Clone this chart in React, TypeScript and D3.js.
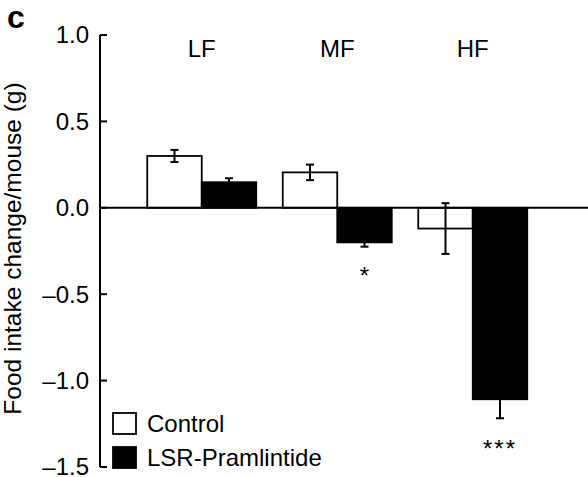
import React from "react";
import * as d3 from "d3";

const groups = ["LF", "MF", "HF"];
const seriesNames = ["Control", "LSR-Pramlintide"];
const controlValues = [0.3, 0.205, -0.12];
const controlErrors = [0.035, 0.045, 0.147];
const lsrValues = [0.148, -0.2, -1.108];
const lsrErrors = [0.023, 0.025, 0.11];
const significance = ["", "*", "***"];
const yTicks = [1.0, 0.5, 0.0, -0.5, -1.0, -1.5];

const W = 588;
const H = 477;
const FONT = "'Liberation Sans', Arial, Helvetica, sans-serif";

export default function App() {
  const y = d3.scaleLinear().domain([-1.5, 1.0]).range([467, 35]);
  const x0 = d3.scaleBand<string>().domain(groups).range([134, 540.5]).padding(0);
  const x1 = d3
    .scaleBand<string>()
    .domain(seriesNames)
    .range([13.25, x0.bandwidth() - 13.25])
    .padding(0);
  const fills = ["#ffffff", "#000000"];
  const seriesVals = [controlValues, lsrValues];
  const seriesErr = [controlErrors, lsrErrors];
  const fmt = (v: number) => (v < 0 ? "\u2013" : "") + Math.abs(v).toFixed(1);
  const axisX = 100;
  const cap = 4;

  return (
    <svg width={W} height={H} style={{ position: "absolute", left: 0, top: 0 }} fontFamily={FONT}>
      <rect x={0} y={0} width={W} height={H} fill="#fff" />
      <text x={7} y={28} fontSize={32} fontWeight="bold">c</text>
      <text
        transform={`translate(21,${(80 + 417) / 2}) rotate(-90)`}
        textAnchor="middle"
        fontSize={24.5}
      >
        Food intake change/mouse (g)
      </text>
      {/* y axis */}
      <line x1={axisX} x2={axisX} y1={y(1.0)} y2={y(-1.5)} stroke="#000" strokeWidth={2} />
      {yTicks.map((t) => (
        <g key={t}>
          <line x1={axisX} x2={axisX + 7} y1={y(t)} y2={y(t)} stroke="#000" strokeWidth={2} />
          <text x={89} y={y(t)} dy="0.35em" textAnchor="end" fontSize={24}>
            {fmt(t)}
          </text>
        </g>
      ))}
      {/* bars */}
      {groups.map((g, gi) => (
        <g key={g} transform={`translate(${x0(g)},0)`}>
          {seriesNames.map((s, si) => {
            const v = seriesVals[si][gi];
            const e = seriesErr[si][gi];
            const bx = x1(s) as number;
            const bw = x1.bandwidth();
            const cx = bx + bw / 2;
            return (
              <g key={s}>
                <rect
                  x={bx}
                  y={Math.min(y(v), y(0))}
                  width={bw}
                  height={Math.abs(y(v) - y(0))}
                  fill={fills[si]}
                  stroke="#000"
                  strokeWidth={1.8}
                />
                <line x1={cx} x2={cx} y1={y(v + e)} y2={y(v - e)} stroke="#000" strokeWidth={2} />
                <line x1={cx - cap} x2={cx + cap} y1={y(v + e)} y2={y(v + e)} stroke="#000" strokeWidth={2} />
                <line x1={cx - cap} x2={cx + cap} y1={y(v - e)} y2={y(v - e)} stroke="#000" strokeWidth={2} />
              </g>
            );
          })}
          <text x={x0.bandwidth() / 2} y={57} textAnchor="middle" fontSize={24}>
            {g}
          </text>
          {significance[gi] && (
            <text
              x={(x1("LSR-Pramlintide") as number) + x1.bandwidth() / 2}
              y={gi === 1 ? 284 : 457}
              textAnchor="middle"
              fontSize={24}
              letterSpacing={gi === 2 ? 2 : 0}
            >
              {significance[gi]}
            </text>
          )}
        </g>
      ))}
      {/* zero line */}
      <line x1={axisX} x2={W} y1={y(0)} y2={y(0)} stroke="#000" strokeWidth={2} />
      {/* legend */}
      {seriesNames.map((s, i) => (
        <g key={s}>
          <rect
            x={113}
            y={413 + i * 34}
            width={23}
            height={21}
            fill={fills[i]}
            stroke="#000"
            strokeWidth={1.8}
          />
          <text x={147} y={432 + i * 34} fontSize={24}>
            {s}
          </text>
        </g>
      ))}
    </svg>
  );
}
